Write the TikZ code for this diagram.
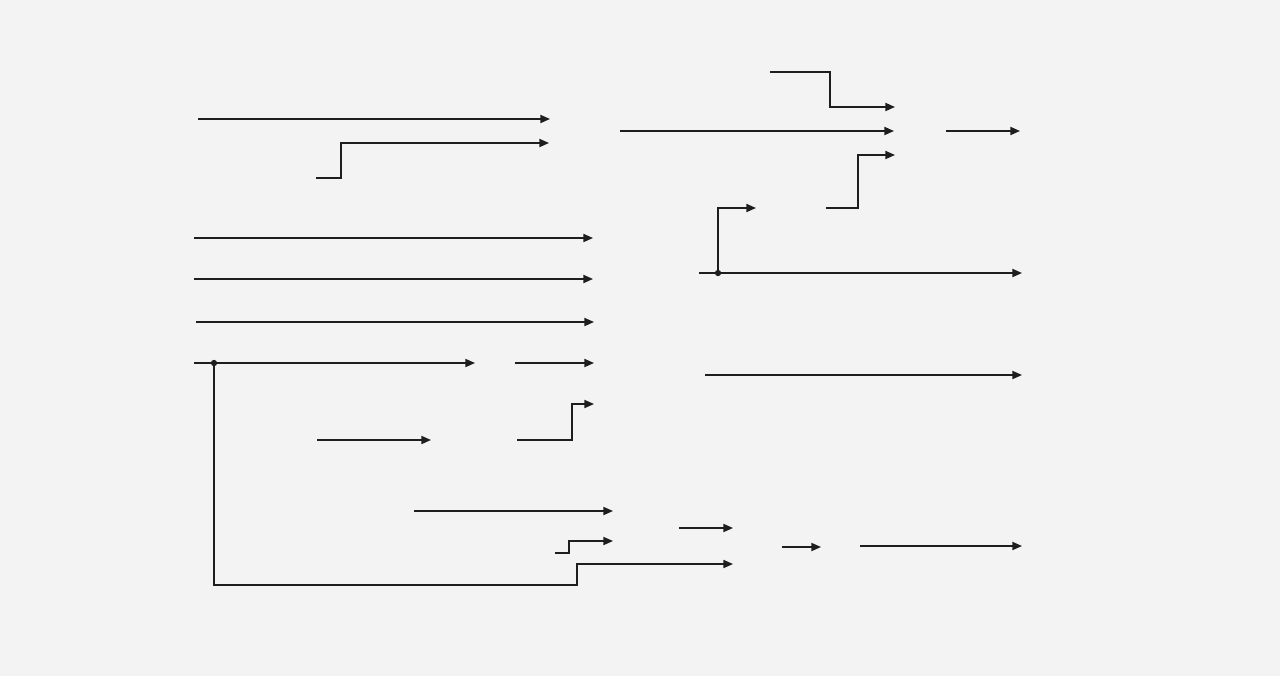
\documentclass[tikz,border=0pt]{standalone}
\usetikzlibrary{arrows.meta}
\definecolor{bg}{HTML}{F3F3F3}
\definecolor{ink}{HTML}{1E1E1E}
\begin{document}
\begin{tikzpicture}[x=0.02cm,y=-0.02cm,
  wire/.style={draw=ink,line width=0.9pt},
  arr/.style={wire,-{Triangle[length=5.5pt,width=4.6pt]}},
  jdot/.style={circle,fill=ink,inner sep=0pt,minimum size=3.6pt}]
\fill[bg] (0,0) rectangle (1280,676);
\useasboundingbox (0,0) rectangle (1280,676);
% top left
\coordinate (a1s) at (198,119); \coordinate (a1e) at (550,119);
\draw[arr] (a1s) -- (a1e);
\coordinate (a2s) at (316,178); \coordinate (a2e) at (549,143);
\draw[arr] (a2s) -- (341,178) |- (a2e);
% top right
\coordinate (a3s) at (620,131); \coordinate (a3e) at (894,131);
\draw[arr] (a3s) -- (a3e);
\coordinate (a4s) at (770,72); \coordinate (a4e) at (895,107);
\draw[arr] (a4s) -- (830,72) |- (a4e);
\coordinate (a5s) at (826,208); \coordinate (a5e) at (895,155);
\draw[arr] (a5s) -- (858,208) |- (a5e);
\coordinate (a6s) at (946,131); \coordinate (a6e) at (1020,131);
\draw[arr] (a6s) -- (a6e);
% left block
\coordinate (b1s) at (194,238); \coordinate (b1e) at (593,238);
\draw[arr] (b1s) -- (b1e);
\coordinate (b2s) at (194,279); \coordinate (b2e) at (593,279);
\draw[arr] (b2s) -- (b2e);
\coordinate (b3s) at (196,322); \coordinate (b3e) at (594,322);
\draw[arr] (b3s) -- (b3e);
\coordinate (b4s) at (194,363); \coordinate (b4e) at (475,363);
\draw[arr] (b4s) -- (b4e);
\node[jdot] (j1) at (214,363) {};
\coordinate (b5s) at (515,363); \coordinate (b5e) at (594,363);
\draw[arr] (b5s) -- (b5e);
\coordinate (b6s) at (317,440); \coordinate (b6e) at (431,440);
\draw[arr] (b6s) -- (b6e);
\coordinate (b7s) at (517,440); \coordinate (b7e) at (594,404);
\draw[arr] (b7s) -- (572,440) |- (b7e);
% bottom
\coordinate (c1s) at (414,511); \coordinate (c1e) at (613,511);
\draw[arr] (c1s) -- (c1e);
\coordinate (c2s) at (555,553); \coordinate (c2e) at (613,541);
\draw[arr] (c2s) -- (569,553) |- (c2e);
\coordinate (c3e) at (733,564);
\draw[arr] (j1.center) -- (214,585) -- (577,585) |- (c3e);
\coordinate (c4s) at (679,528); \coordinate (c4e) at (733,528);
\draw[arr] (c4s) -- (c4e);
\coordinate (c5s) at (782,547); \coordinate (c5e) at (821,547);
\draw[arr] (c5s) -- (c5e);
\coordinate (c6s) at (860,546); \coordinate (c6e) at (1022,546);
\draw[arr] (c6s) -- (c6e);
% right middle
\coordinate (d1s) at (699,273); \coordinate (d1e) at (1022,273);
\draw[arr] (d1s) -- (d1e);
\node[jdot] (j2) at (718,273) {};
\coordinate (d2e) at (756,208);
\draw[arr] (j2.center) |- (d2e);
\coordinate (d3s) at (705,375); \coordinate (d3e) at (1022,375);
\draw[arr] (d3s) -- (d3e);
\end{tikzpicture}
\end{document}
